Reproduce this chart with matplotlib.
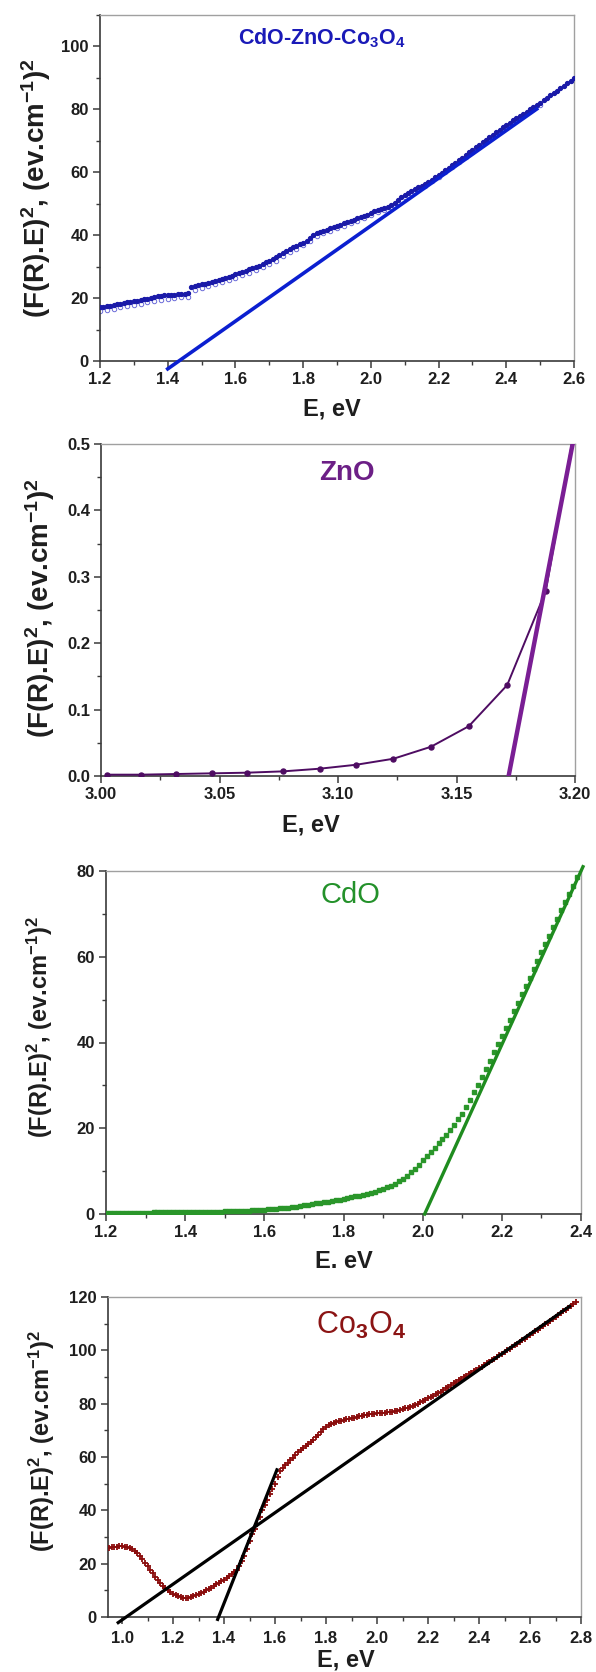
import numpy as np
import matplotlib
matplotlib.use("Agg")
import matplotlib.pyplot as plt
from matplotlib.ticker import MultipleLocator, FormatStrFormatter

W, H = 596, 1672

# ---------------- data ----------------
# CdO-ZnO-Co3O4: two overlapping scans, filled (1.20..2.60) and open (1.20..2.50)
mix_filled = [
    17.0, 17.2, 17.4, 17.6, 17.8, 18.0, 18.2, 18.4, 18.6, 18.8,
    19.0, 19.2, 19.4, 19.6, 19.8, 20.0, 20.2, 20.5, 20.7, 20.8,
    21.0, 21.0, 21.1, 21.2, 21.3, 21.4, 21.6, 23.5, 23.8, 24.0,
    24.3, 24.6, 24.9, 25.2, 25.5, 25.8, 26.1, 26.4, 26.8, 27.1,
    27.5, 27.9, 28.3, 28.7, 29.1, 29.5, 29.9, 30.3, 30.8, 31.3,
    31.8, 32.3, 32.9, 33.5, 34.2, 35.0, 35.6, 36.1, 36.6, 37.1,
    37.6, 38.2, 39.2, 40.0, 40.5, 40.9, 41.3, 41.7, 42.1, 42.5,
    42.9, 43.3, 43.7, 44.1, 44.5, 44.9, 45.3, 45.7, 46.1, 46.5,
    47.0, 47.5, 48.0, 48.4, 48.7, 49.0, 49.6, 50.3, 51.2, 52.0,
    52.7, 53.3, 53.9, 54.5, 55.1, 55.7, 56.3, 56.9, 57.6, 58.3,
    59.0, 59.8, 60.6, 61.4, 62.2, 63.0, 63.8, 64.6, 65.4, 66.2,
    67.0, 67.8, 68.6, 69.4, 70.2, 71.0, 71.8, 72.6, 73.4, 74.2,
    75.0, 75.7, 76.4, 77.1, 77.8, 78.5, 79.2, 79.9, 80.6, 81.3,
    82.0, 82.8, 83.6, 84.4, 85.1, 85.8, 86.6, 87.4, 88.2, 89.0,
    89.7,
]
mix_open = [
    15.8, 16.2, 16.6, 17.0, 17.4, 17.8, 18.2, 18.6, 19.0, 19.4,
    19.8, 20.0, 20.2, 20.4, 22.6, 23.3, 23.9, 24.5, 25.1, 25.7,
    26.4, 27.2, 28.0, 28.8, 29.7, 30.7, 31.9, 33.2, 34.6, 35.7,
    36.7, 38.2, 39.6, 40.5, 41.3, 42.1, 42.9, 43.7, 44.5, 45.3,
    46.2, 47.2, 47.9, 48.8, 50.5, 52.0, 53.3, 54.5, 55.7, 57.0,
    58.4, 60.0, 61.6, 63.2, 64.8, 66.4, 68.0, 69.6, 71.2, 72.8,
    74.4, 75.8, 77.2, 78.6, 80.0, 81.4,
]
mix_fit_e = [1.40, 2.49]
mix_fit_y = [-2.5, 80.0]

# ZnO
zno_e = [3.0024, 3.0170, 3.0318, 3.0467, 3.0617, 3.0769, 3.0923,
         3.1078, 3.1234, 3.1392, 3.1552, 3.1714, 3.1877, 3.2041]
zno_y = [0.002, 0.002, 0.003, 0.004, 0.005, 0.007, 0.011,
         0.017, 0.026, 0.044, 0.075, 0.137, 0.279, 0.61]
zno_fit_e = [3.172, 3.199]
zno_fit_y = [0.0, 0.5]

# CdO (1.20..2.40)
cdo_y = [
    0.30, 0.30, 0.30, 0.30, 0.31, 0.31, 0.31, 0.32, 0.32, 0.33,
    0.33, 0.34, 0.35, 0.35, 0.36, 0.37, 0.38, 0.39, 0.40, 0.41,
    0.42, 0.43, 0.44, 0.46, 0.47, 0.49, 0.51, 0.53, 0.55, 0.58,
    0.60, 0.63, 0.66, 0.69, 0.72, 0.76, 0.80, 0.85, 0.90, 0.95,
    1.00, 1.07, 1.14, 1.22, 1.30, 1.39, 1.49, 1.60, 1.72, 1.85,
    2.00, 2.14, 2.29, 2.45, 2.62, 2.75, 2.90, 3.05, 3.20, 3.35,
    3.5, 3.7, 3.9, 4.1, 4.3, 4.5, 4.7, 4.9, 5.2, 5.5,
    5.8, 6.2, 6.6, 7.1, 7.6, 8.2, 8.9, 9.7, 10.5, 11.5,
    12.5, 13.5, 14.5, 15.5, 16.5, 17.5, 18.5, 19.6, 20.8, 22.1,
    23.3, 24.9, 26.6, 28.4, 30.2, 32.0, 33.9, 35.8, 37.7, 39.6,
    41.4, 43.4, 45.3, 47.3, 49.3, 51.2, 53.2, 55.1, 57.1, 59.0,
    61.0, 63.0, 64.9, 66.9, 68.8, 70.8, 72.7, 74.6, 76.6, 78.5,
    80.4,
]
cdo_fit_e = [2.005, 2.405]
cdo_fit_y = [0.0, 81.0]

# Co3O4 (0.94..2.78)
co_y = [
    25.9, 26.0, 26.2, 26.3, 26.4, 26.5, 26.5, 26.4, 26.2, 25.9,
    25.4, 24.7, 23.9, 22.8, 21.6, 20.3, 19.0, 17.7, 16.4, 15.1,
    13.9, 12.8, 11.8, 10.8, 10.0, 9.2, 8.6, 8.1, 7.7, 7.4,
    7.3, 7.2, 7.3, 7.5, 7.8, 8.1, 8.5, 9.0, 9.5, 10.0,
    10.5, 11.0, 11.6, 12.2, 12.8, 13.4, 14.0, 14.7, 15.4, 16.1,
    16.9, 17.8, 19.0, 21.0, 23.0, 25.5, 28.5, 31.0, 33.0, 35.0,
    37.5, 40.0, 42.0, 44.0, 46.0, 48.0, 50.0, 52.5, 54.8, 56.0,
    57.0, 57.8, 58.8, 59.8, 60.8, 61.8, 62.7, 63.5, 64.2, 65.0,
    65.7, 66.4, 67.4, 68.4, 69.5, 70.5, 71.3, 71.9, 72.4, 72.8,
    73.1, 73.4, 73.6, 73.9, 74.1, 74.3, 74.5, 74.8, 75.0, 75.3,
    75.5, 75.8, 75.9, 76.0, 76.1, 76.2, 76.4, 76.4, 76.5, 76.6,
    76.7, 76.8, 77.0, 77.2, 77.4, 77.6, 77.9, 78.2, 78.5, 78.8,
    79.1, 79.5, 80.0, 80.5, 81.0, 81.5, 82.0, 82.5, 83.0, 83.5,
    84.0, 84.5, 85.1, 85.7, 86.3, 86.9, 87.6, 88.2, 88.7, 89.3,
    89.9, 90.4, 91.0, 91.5, 92.1, 92.6, 93.2, 93.8, 94.5, 95.1,
    95.7, 96.3, 96.9, 97.5, 98.2, 98.8, 99.4, 100.0, 100.6, 101.3,
    101.9, 102.5, 103.2, 103.8, 104.4, 105.1, 105.7, 106.4, 107.1, 107.8,
    108.4, 109.1, 109.8, 110.4, 111.1, 111.8, 112.5, 113.2, 113.9, 114.6,
    115.3, 116.0, 116.7, 117.3, 118.0,
]
co_fit1_e = [0.985, 2.755]
co_fit1_y = [-2.1, 116.5]
co_fit2_e = [1.375, 1.6075]
co_fit2_y = [-0.9, 55.2]

mix_e = np.linspace(1.20, 2.60, len(mix_filled))
mix_e_open = np.linspace(1.20, 2.50, len(mix_open))
cdo_e = np.linspace(1.20, 2.40, len(cdo_y))
co_e = np.linspace(0.94, 2.78, len(co_y))

# ---------------- style ----------------
plt.rcParams.update({
    "font.family": ["Liberation Sans", "DejaVu Sans"],
    "font.weight": "bold",
    "axes.labelweight": "bold",
    "mathtext.fontset": "custom",
    "mathtext.rm": "Liberation Sans",
    "mathtext.bf": "Liberation Sans:bold",
    "mathtext.default": "bf",
})

YLAB = r"(F(R).E)$^{2}$, (ev.cm$^{-1}$)$^{2}$"
INK = "#1e1e1e"

fig = plt.figure(figsize=(W / 100, H / 100), dpi=100)


def make_axes(rect):
    l, t, r, b = rect
    return fig.add_axes([l / W, 1 - b / H, (r - l) / W, (b - t) / H])


def frac(rect, px, py):
    l, t, r, b = rect
    return (px - l) / (r - l), (b - py) / (b - t)


def style(ax, rect, xlim, ylim, xmaj, xmin, ymaj, ymin, xfmt, yfmt,
          xlabel, xlab_pos, ylab_pos, ylab_size):
    ax.set_xlim(*xlim)
    ax.set_ylim(*ylim)
    ax.xaxis.set_major_locator(MultipleLocator(xmaj))
    ax.xaxis.set_minor_locator(MultipleLocator(xmin))
    ax.yaxis.set_major_locator(MultipleLocator(ymaj))
    ax.yaxis.set_minor_locator(MultipleLocator(ymin))
    ax.xaxis.set_major_formatter(FormatStrFormatter(xfmt))
    ax.yaxis.set_major_formatter(FormatStrFormatter(yfmt))
    for s in ("left", "bottom"):
        ax.spines[s].set_color("#3a3a3a")
        ax.spines[s].set_linewidth(1.2)
    for s in ("top", "right"):
        ax.spines[s].set_color("#a0a0a0")
        ax.spines[s].set_linewidth(1.0)
    ax.tick_params(which="both", direction="out", color="#3a3a3a",
                   top=False, right=False)
    ax.tick_params(which="major", length=5, width=1.1, labelsize=12,
                   labelcolor=INK, pad=3)
    ax.tick_params(which="minor", length=3, width=1.0)
    ax.set_xlabel(xlabel, fontsize=17, color=INK, fontweight="bold")
    ax.xaxis.set_label_coords(*frac(rect, *xlab_pos))
    ax.xaxis.label.set_verticalalignment("center")
    ax.set_ylabel(YLAB, fontsize=ylab_size, color=INK, fontweight="bold")
    ax.yaxis.set_label_coords(*frac(rect, *ylab_pos))
    ax.yaxis.label.set_verticalalignment("center")


# ---- panel 1: CdO-ZnO-Co3O4 ----
r1 = (100, 14.5, 574, 361)
ax1 = make_axes(r1)
ax1.plot(mix_e_open, mix_open, "o", ms=3.2, mfc="none", mec="#6a6ad8",
         mew=0.7, zorder=2)
ax1.plot(mix_e, mix_filled, "o", ms=2.8, color="#1a1aa8", zorder=3)
ax1.plot(mix_fit_e, mix_fit_y, "-", color="#0b1fd0", lw=2.6,
         clip_on=False, zorder=4)
style(ax1, r1, (1.2, 2.6), (0, 110), 0.2, 0.1, 20, 10, "%.1f", "%d",
      "E, eV", (332, 409), (36, 188), 20)
ax1.text(*frac(r1, 322, 38), r"CdO-ZnO-Co$_{3}$O$_{4}$",
         transform=ax1.transAxes, ha="center", va="center",
         fontsize=15.5, color="#1a1ab8")

# ---- panel 2: ZnO ----
r2 = (101, 444, 575, 776)
ax2 = make_axes(r2)
ax2.plot(zno_e, zno_y, "-o", color="#4e0c62", lw=1.4, ms=3.6, zorder=3)
ax2.plot(zno_fit_e, zno_fit_y, "-", color="#7a1e94", lw=3.2, zorder=4)
style(ax2, r2, (3.0, 3.2), (0, 0.5), 0.05, 0.025, 0.1, 0.05, "%.2f", "%.1f",
      "E, eV", (311, 825), (40, 608), 20)
ax2.text(*frac(r2, 347, 473), "ZnO", transform=ax2.transAxes,
         ha="center", va="center", fontsize=20, color="#6c1f86")

# ---- panel 3: CdO ----
r3 = (106, 871, 581, 1214)
ax3 = make_axes(r3)
ax3.plot(cdo_e, cdo_y, "s", ms=2.4, color="#2a962a", zorder=3)
ax3.plot(cdo_fit_e, cdo_fit_y, "-", color="#1f8c1f", lw=2.4,
         clip_on=False, zorder=4)
style(ax3, r3, (1.2, 2.4), (0, 80), 0.2, 0.1, 20, 10, "%.1f", "%d",
      "E. eV", (344, 1262), (40, 1027), 17)
ax3.text(*frac(r3, 350, 895), "CdO", transform=ax3.transAxes,
         ha="center", va="center", fontsize=21, fontweight="normal",
         color="#23912a")

# ---- panel 4: Co3O4 ----
r4 = (108, 1297, 581, 1617)
ax4 = make_axes(r4)
ax4.plot(co_e, co_y, "+", ms=4.5, mew=1.3, color="#8a0c0c", zorder=3)
ax4.plot(co_fit1_e, co_fit1_y, "-", color="black", lw=2.3,
         clip_on=False, zorder=4)
ax4.plot(co_fit2_e, co_fit2_y, "-", color="black", lw=2.3,
         clip_on=False, zorder=4)
style(ax4, r4, (0.945, 2.8), (0, 120), 0.2, 0.1, 20, 10, "%.1f", "%d",
      "E, eV", (346, 1660), (42, 1441), 17)
ax4.tick_params(axis="x", which="major", pad=5)
ax4.text(*frac(r4, 361, 1325), r"Co$_{\mathrm{3}}$O$_{\mathrm{4}}$",
         transform=ax4.transAxes, ha="center", va="center",
         fontsize=22, fontweight="normal", color="#8b1414")

# tick labels bold: draw once so the tick objects exist, then set weight
fig.canvas.draw()
for ax in (ax1, ax2, ax3, ax4):
    for lab in ax.get_xticklabels() + ax.get_yticklabels():
        lab.set_fontweight("bold")

fig.savefig("out.png", dpi=100)
